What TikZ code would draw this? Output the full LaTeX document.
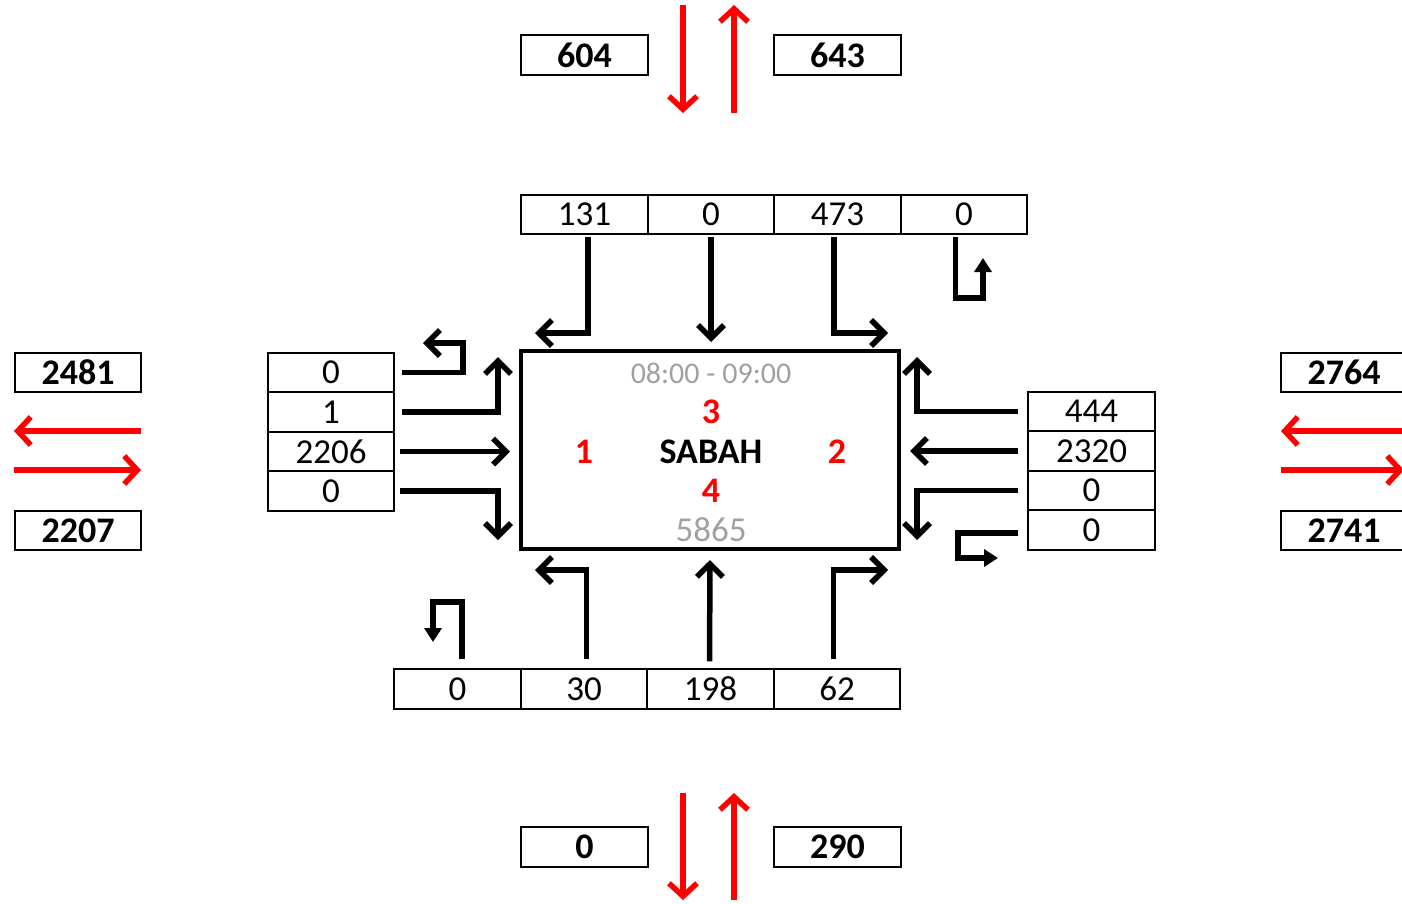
\documentclass[tikz,border=0pt]{standalone}
\usepackage{fontspec}
\setmainfont{Carlito}
\usetikzlibrary{positioning,arrows.meta}
\definecolor{flowRed}{RGB}{255,0,0}
\definecolor{timeGray}{RGB}{160,160,160}

\begin{document}
\begin{tikzpicture}[x=1pt, y=-1pt,
  cell/.style={draw, line width=1.6pt, outer sep=0pt, inner sep=0pt,
    minimum width=126.5pt, minimum height=39.5pt, font=\fontsize{35}{38}\selectfont},
  total/.style={cell, font=\fontsize{36}{38}\selectfont\bfseries},
  lane/.style={line width=5.5pt, -{Straight Barb[length=13pt, width=26pt]}},
  uturn/.style={line width=5.5pt, -{Triangle[length=14pt, width=17pt]}},
  flow/.style={flowRed, line width=5.5pt, -{Straight Barb[length=13pt, width=28pt]}},
  label/.style={font=\fontsize{36}{38}\selectfont\bfseries}]
  \useasboundingbox (0,0) rectangle (1402,903);

  % Junction
  \node[draw, line width=3.5pt, minimum width=378pt, minimum height=198pt] (sabah) at (710,450) {};
  \node[text=timeGray, font=\fontsize{30}{32}\selectfont] (time) at (711,373) {08:00 - 09:00};
  \node[label] (name) at (711,452) {SABAH};
  \node[label, text=flowRed] (arm3) at (711,412) {3};
  \node[label, text=flowRed] (arm1) at (584,452) {1};
  \node[label, text=flowRed] (arm2) at (837,452) {2};
  \node[label, text=flowRed] (arm4) at (711,491) {4};
  \node[text=timeGray, font=\fontsize{35}{38}\selectfont] (sum) at (711,530) {5865};

  % Lane counts
  \node[cell] (n1) at (584.5,214.5) {131};
  \node[cell, right=0pt of n1] (n2) {0};
  \node[cell, right=0pt of n2] (n3) {473};
  \node[cell, right=0pt of n3] (n4) {0};

  \node[cell] (w1) at (331,372.5) {0};
  \node[cell, below=0pt of w1] (w2) {1};
  \node[cell, below=0pt of w2] (w3) {2206};
  \node[cell, below=0pt of w3] (w4) {0};

  \node[cell] (e1) at (1091.5,411.5) {444};
  \node[cell, below=0pt of e1] (e2) {2320};
  \node[cell, below=0pt of e2] (e3) {0};
  \node[cell, below=0pt of e3] (e4) {0};

  \node[cell] (s1) at (457.5,689) {0};
  \node[cell, right=0pt of s1] (s2) {30};
  \node[cell, right=0pt of s2] (s3) {198};
  \node[cell, right=0pt of s3] (s4) {62};

  % Arm totals
  \node[total] (nOut) at (584.5,55) {604};
  \node[total] (nIn) at (837.5,55) {643};
  \node[total] (sOut) at (584.5,847) {0};
  \node[total] (sIn) at (837.5,847) {290};
  \node[total] (wOut) at (78,372.5) {2481};
  \node[total] (wIn) at (78,530.5) {2207};
  \node[total] (eOut) at (1344,372.5) {2764};
  \node[total] (eIn) at (1344,530.5) {2741};

  % Arm flows
  \coordinate (nTop1) at (683,5);    \coordinate (nBot1) at (683,113);
  \coordinate (nTop2) at (734,5);    \coordinate (nBot2) at (734,113);
  \coordinate (sTop1) at (683,793);  \coordinate (sBot1) at (683,900);
  \coordinate (sTop2) at (734,793);  \coordinate (sBot2) at (734,900);
  \coordinate (wL1) at (14,431);     \coordinate (wR1) at (141,431);
  \coordinate (wL2) at (14,470);     \coordinate (wR2) at (141,470);
  \coordinate (eL1) at (1281,431);   \coordinate (eR1) at (1402,431);
  \coordinate (eL2) at (1281,470);   \coordinate (eR2) at (1404,470);
  \draw[flow] (nTop1) -- (nBot1);
  \draw[flow] (nBot2) -- (nTop2);
  \draw[flow] (sTop1) -- (sBot1);
  \draw[flow] (sBot2) -- (sTop2);
  \draw[flow] (wR1) -- (wL1);
  \draw[flow] (wL2) -- (wR2);
  \draw[flow] (eR1) -- (eL1);
  \draw[flow] (eL2) -- (eR2);

  % Turning movements
  \draw[lane] ([xshift=3.5pt, yshift=-3pt]n1.south) |- (535,333);
  \draw[lane] ([yshift=-3pt]n2.south) -- (711,342);
  \draw[lane] ([xshift=-3.5pt, yshift=-3pt]n3.south) |- (888,333);
  \draw[uturn] ([xshift=-8.5pt, yshift=-3pt]n4.south) |- (983,298) -- (983,258);

  \draw[lane] ([xshift=8pt]w1.east) -| (463,343) -- (423,343);
  \draw[lane] ([xshift=8pt]w2.east) -| (498,357);
  \draw[lane] ([xshift=6pt]w3.east) -- (510,451.5);
  \draw[lane] ([xshift=6pt]w4.east) -| (498,540);

  \draw[lane] ([xshift=-10pt]e1.west) -| (917,357);
  \draw[lane] ([xshift=-10pt]e2.west) -- (910,451);
  \draw[lane] ([xshift=-10pt]e3.west) -| (917,540);
  \draw[uturn] ([xshift=-10pt, yshift=-3pt]e4.west) -| (958,558) -- (998,558);

  \draw[uturn] ([xshift=4.5pt, yshift=10pt]s1.north) |- (433,602) -- (433,642);
  \draw[lane] ([xshift=2.5pt, yshift=10pt]s2.north) |- (535,570);
  \draw[lane] ([xshift=-1pt, yshift=8pt]s3.north) -- (710,560);
  \draw[lane] ([xshift=-3.5pt, yshift=10pt]s4.north) |- (888,570);
\end{tikzpicture}
\end{document}
